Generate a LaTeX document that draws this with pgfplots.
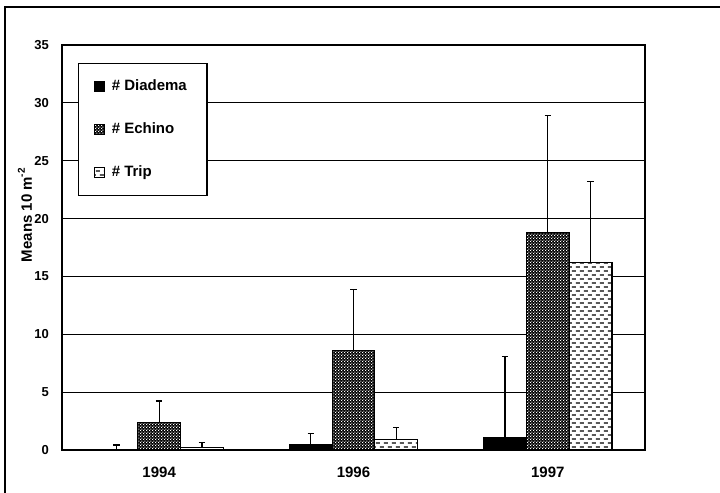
\documentclass[border=0pt]{standalone}
\usepackage{fontspec}
\setmainfont{Liberation Sans}
\usepackage{pgfplots}
\pgfplotsset{compat=1.18}
\usepackage{pgfplotstable}
\usetikzlibrary{patterns,patterns.meta}

\tikzdeclarepattern{name=finedots, type=uncolored,
  bottom left={(0pt,0pt)}, top right={(1.6pt,1.6pt)}, tile size={(1.6pt,1.6pt)},
  code={\fill (0pt,0pt) rectangle (0.65pt,0.65pt); \fill (0.8pt,0.8pt) rectangle (1.45pt,1.45pt);}}
\tikzdeclarepattern{name=hdashes, type=uncolored,
  bottom left={(0pt,0pt)}, top right={(4pt,4pt)}, tile size={(4pt,4pt)},
  code={\draw[line width=0.55pt] (0.4pt,1pt) -- (2.4pt,1pt);
        \draw[line width=0.55pt] (2.4pt,3pt) -- (4pt,3pt);
        \draw[line width=0.55pt] (0pt,3pt) -- (0.4pt,3pt);}}

\pgfplotstableread{
x D Derr E Eerr T Terr
0 0    0.43 2.4  1.83 0.2  0.46
1 0.47 0.97 8.6  5.3  0.92 1.0
2 1.06 7.04 18.8 10.1 16.2 7.0
}\datatable

\begin{document}
\begin{tikzpicture}
\useasboundingbox (0,0) rectangle (360pt,246.5pt);
\draw[line width=1pt] (2.5pt,-2pt) -- (2.5pt,243pt) -- (362pt,243pt);
\begin{axis}[
  at={(31pt,21.5pt)}, anchor=south west,
  scale only axis, width=291.5pt, height=202.5pt,
  xmin=-0.5, xmax=2.5, ymin=0, ymax=35,
  xtick={0,1,2}, xticklabels={1994,1996,1997},
  xtick style={draw=none},
  ytick={0,5,...,35},
  tick pos=left,
  ytick style={black, line width=0.5pt}, major tick length=2pt,
  ymajorgrids, major grid style={black, line width=0.5pt},
  axis line style={black, line width=0.7pt},
  /pgf/number format/assume math mode=true,
  yticklabel style={font=\bfseries\fontsize{6.5}{8}\selectfont, xshift=-3pt},
  xticklabel style={font=\bfseries\fontsize{7.5}{9}\selectfont, yshift=-5pt},
  every axis y label/.style={at={(axis description cs:0,0.58)}, xshift=-18.5pt, rotate=90, anchor=center, font=\bfseries\fontsize{7.5}{9}\selectfont},
  ylabel={Means 10 m\raisebox{0.9ex}{\fontsize{5}{6}\selectfont -2}},
  bar width=0.22,
  error bars/y dir=plus, error bars/y explicit,
  error bars/error bar style={black, line width=0.6pt},
  error bars/error mark options={black, line width=0.6pt, mark size=1.6pt, rotate=90},
  legend cell align=left,
  legend image code/.code={\draw[#1, draw=black, line width=0.4pt] (0pt,-2.4pt) rectangle (4.8pt,2.4pt);},
  legend style={at={(axis description cs:0.0269,0.9556)}, anchor=north west,
    draw=black, line width=0.7pt, fill=white, inner xsep=8pt, inner ysep=6pt,
    row sep=10.5pt, font=\bfseries\fontsize{7.5}{9}\selectfont,
    /tikz/every odd column/.append style={column sep=1.5pt}},
]
\addplot[ybar, bar shift=0, draw=black, line width=0.6pt, fill=black]
  table[x expr=\thisrow{x}-0.22, y=D, y error=Derr] {\datatable};
\addlegendentry{\# Diadema}
\addplot[ybar, bar shift=0, draw=black, line width=0.6pt, fill=black, postaction={pattern=finedots, pattern color=white}]
  table[x=x, y=E, y error=Eerr] {\datatable};
\addlegendentry{\# Echino}
\addplot[ybar, bar shift=0, draw=black, line width=0.6pt, fill=white, postaction={pattern=hdashes, pattern color=black}]
  table[x expr=\thisrow{x}+0.22, y=T, y error=Terr] {\datatable};
\addlegendentry{\# Trip}
\end{axis}
\end{tikzpicture}
\end{document}
